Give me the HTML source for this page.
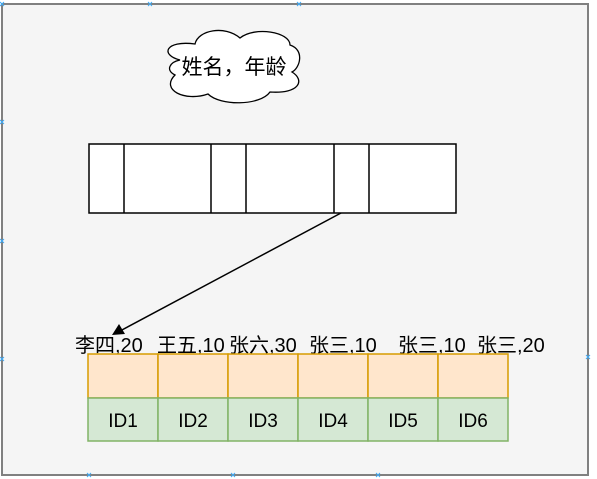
<!DOCTYPE html>
<html><head><meta charset="utf-8"><style>
html,body{margin:0;padding:0;background:#fff}
svg{display:block}
text{font-family:"Liberation Sans","Noto Sans CJK SC",sans-serif;fill:#000}
</style></head><body>
<svg width="597" height="479" viewBox="0 0 597 479">
<rect x="2" y="4" width="586" height="471" fill="#f5f5f5" stroke="#808080" stroke-width="2"/>
<g stroke="#3fa9f5" stroke-width="1">
<path d="M0,2l4,4M4,2l-4,4M148,2l4,4M152,2l-4,4M297,2l4,4M301,2l-4,4M0,120l4,4M4,120l-4,4M0,239l4,4M4,239l-4,4M0,357l4,4M4,357l-4,4M87,473l4,4M91,473l-4,4M231,473l4,4M235,473l-4,4M376,473l4,4M380,473l-4,4M586,355l4,4M590,355l-4,4"/>
</g>
<path d="M180,60 C160,55 165,40 195,44 C198,30 225,25 240,38 C255,26 290,32 290,45 C305,50 300,68 292,72 C305,80 300,94 270,92 C260,106 220,106 208,94 C185,102 160,90 175,75 C165,70 170,62 180,60 Z" fill="#fff" stroke="#000" stroke-width="1.3"/>
<text x="234" y="74" font-size="21" text-anchor="middle">姓名，年龄</text>
<g fill="#fff" stroke="#000" stroke-width="1.5">
<rect x="89" y="144" width="367" height="69"/>
<path d="M124,144V213M211,144V213M246,144V213M334,144V213M369,144V213"/>
</g>
<line x1="341" y1="213" x2="120" y2="331" stroke="#000" stroke-width="1.5"/>
<polygon points="112,335 119,324 125,334" fill="#000"/>
<g font-size="20">
<text x="75" y="352">李四,20</text>
<text x="157" y="352">王五,10</text>
<text x="229" y="352">张六,30</text>
<text x="309" y="352">张三,10</text>
<text x="398" y="352">张三,10</text>
<text x="477" y="352">张三,20</text>
</g>
<g>
<g fill="#ffe6cc" stroke="#d79b00" stroke-width="1.5">
<rect x="88" y="354" width="70" height="44"/><rect x="158" y="354" width="70" height="44"/><rect x="228" y="354" width="70" height="44"/><rect x="298" y="354" width="70" height="44"/><rect x="368" y="354" width="70" height="44"/><rect x="438" y="354" width="70" height="44"/>
</g>
<g fill="#d5e8d4" stroke="#82b366" stroke-width="1.5">
<rect x="88" y="398" width="70" height="43"/><rect x="158" y="398" width="70" height="43"/><rect x="228" y="398" width="70" height="43"/><rect x="298" y="398" width="70" height="43"/><rect x="368" y="398" width="70" height="43"/><rect x="438" y="398" width="70" height="43"/>
</g>
<g font-size="19" text-anchor="middle">
<text x="123" y="427">ID1</text><text x="193" y="427">ID2</text><text x="263" y="427">ID3</text><text x="333" y="427">ID4</text><text x="403" y="427">ID5</text><text x="473" y="427">ID6</text>
</g>
</g>
</svg>
</body></html>
